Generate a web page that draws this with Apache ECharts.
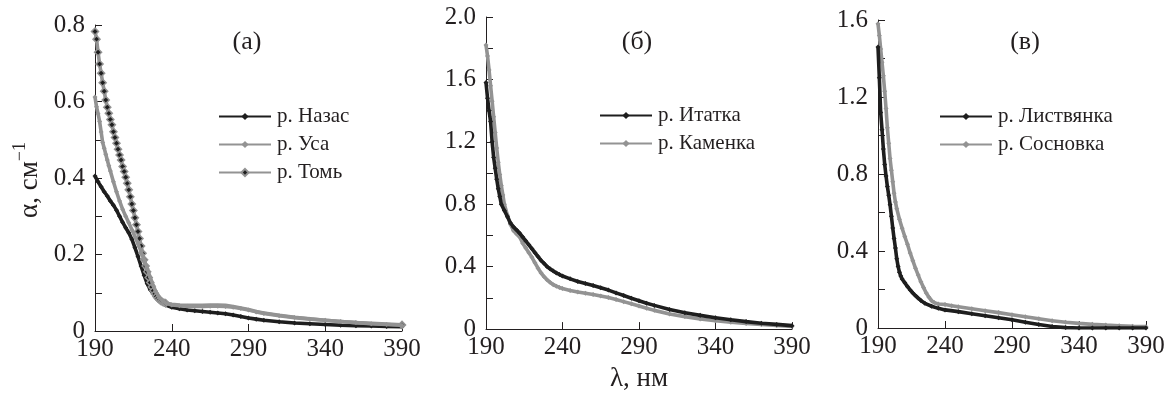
<!DOCTYPE html>
<html>
<head>
<meta charset="utf-8">
<script src="https://cdn.jsdelivr.net/npm/echarts@6/dist/echarts.min.js"></script>
<style>
html,body{margin:0;padding:0;background:#fff;}
#chart{width:1171px;height:397px;}
</style>
</head>
<body>
<div id="chart"></div>
<script>
// ---------- Data ----------
// Panel (а)
const lamNazas = [190,192,194,196,198,200,202,204,206,208,210,212,214,216,218,220,222,224,226,228,230,232,234,236,240,245,250,255,260,265,270,275,280,285,290,295,300,310,320,330,340,350,360,370,380,390];
const valNazas = [0.405,0.39,0.377,0.364,0.353,0.34,0.329,0.316,0.30,0.284,0.27,0.257,0.24,0.218,0.195,0.17,0.146,0.124,0.108,0.097,0.088,0.08,0.073,0.068,0.062,0.058,0.055,0.053,0.051,0.049,0.047,0.045,0.042,0.038,0.034,0.031,0.028,0.024,0.021,0.019,0.017,0.015,0.014,0.013,0.012,0.011];

const lamUsa = [190,191,192,193,194,195,196,197,198,199,200,202,204,206,208,210,212,214,216,218,220,222,224,226,228,230,232,234,236,240,245,250,255,260,265,270,275,280,285,290,295,300,310,320,330,340,350,360,370,380,390];
const valUsa = [0.612,0.586,0.568,0.548,0.52,0.493,0.478,0.462,0.447,0.432,0.418,0.39,0.364,0.34,0.318,0.30,0.283,0.265,0.247,0.228,0.208,0.186,0.163,0.14,0.118,0.1,0.088,0.079,0.073,0.068,0.066,0.065,0.064,0.064,0.065,0.065,0.064,0.062,0.059,0.055,0.05,0.046,0.04,0.035,0.031,0.028,0.025,0.022,0.019,0.017,0.015];

const lamTom = [190,191,192,193,194,195,196,197,198,199,200,201,202,203,204,205,206,207,208,209,210,211,212,213,214,215,216,217,218,219,220,221,222,223,224,225,226,227,228,229,230,231,232,233,234,235,236,240,245,250,255,260,265,270,275,280,285,290,295,300,310,320,330,340,350,360,370,380,390];
const valTom = [0.783,0.763,0.729,0.698,0.674,0.649,0.627,0.604,0.585,0.569,0.553,0.539,0.521,0.506,0.491,0.475,0.46,0.447,0.43,0.417,0.402,0.386,0.369,0.351,0.332,0.315,0.296,0.278,0.26,0.242,0.222,0.203,0.186,0.17,0.155,0.14,0.127,0.115,0.105,0.097,0.09,0.085,0.081,0.078,0.076,0.074,0.073,0.07,0.068,0.067,0.067,0.067,0.068,0.068,0.067,0.064,0.06,0.056,0.051,0.047,0.041,0.036,0.032,0.028,0.025,0.022,0.02,0.018,0.016];

// Panel (б)
const lamItatka = [190,191,192,193,194,195,196,197,198,199,200,202,204,206,208,210,212,214,216,218,220,222,224,226,228,230,232,234,236,238,240,245,250,255,260,265,270,275,280,285,290,295,300,310,320,330,340,350,360,370,380,390];
const valItatka = [1.58,1.48,1.40,1.33,1.20,1.10,1.03,0.96,0.90,0.85,0.80,0.76,0.72,0.68,0.655,0.635,0.615,0.59,0.565,0.54,0.515,0.49,0.465,0.44,0.42,0.40,0.385,0.372,0.36,0.35,0.34,0.322,0.305,0.292,0.28,0.265,0.25,0.232,0.215,0.198,0.182,0.166,0.152,0.126,0.105,0.088,0.073,0.06,0.048,0.038,0.03,0.022];

const lamKamenka = [190,191,192,193,194,195,196,197,198,199,200,201,202,204,206,208,210,212,214,216,218,220,222,224,226,228,230,232,234,236,238,240,245,250,255,260,265,270,275,280,285,290,295,300,310,320,330,340,350,360,370,380,390];
const valKamenka = [1.82,1.75,1.66,1.56,1.46,1.36,1.26,1.16,1.07,0.99,0.92,0.86,0.80,0.73,0.67,0.63,0.61,0.59,0.55,0.52,0.49,0.46,0.425,0.39,0.36,0.335,0.315,0.298,0.285,0.275,0.267,0.26,0.248,0.238,0.23,0.222,0.212,0.202,0.19,0.176,0.162,0.148,0.134,0.12,0.097,0.08,0.065,0.053,0.044,0.036,0.029,0.023,0.017];

// Panel (в)
const lamListv = [190,191,192,193,194,195,196,197,198,199,200,201,202,203,204,205,206,207,208,210,212,214,216,218,220,222,225,230,235,240,250,260,270,280,290,300,310,320,330,340,350,360,370,380,390];
const valListv = [1.46,1.30,1.12,1.03,0.93,0.85,0.79,0.735,0.69,0.64,0.58,0.52,0.465,0.415,0.36,0.32,0.29,0.27,0.255,0.235,0.215,0.198,0.182,0.168,0.155,0.143,0.128,0.113,0.102,0.094,0.085,0.074,0.064,0.053,0.043,0.03,0.018,0.008,0.002,0,0,0,0,0,0];

const lamSosn = [190,191,192,193,194,195,196,197,198,199,200,201,202,203,204,206,208,210,212,214,216,218,220,222,224,226,228,230,232,235,240,245,250,260,270,280,290,300,310,320,330,340,350,360,370,380,390];
const valSosn = [1.58,1.52,1.45,1.38,1.31,1.23,1.14,1.04,0.96,0.88,0.82,0.76,0.70,0.655,0.62,0.565,0.518,0.475,0.435,0.39,0.35,0.31,0.275,0.24,0.21,0.182,0.16,0.142,0.132,0.125,0.122,0.116,0.11,0.1,0.09,0.08,0.069,0.058,0.048,0.038,0.03,0.024,0.019,0.015,0.012,0.009,0.007];

const xTicks = [190, 240, 290, 340, 390];
const panelLabels = ['(а)', '(б)', '(в)'];
const namesA = ['р. Назас', 'р. Уса', 'р. Томь'];
const namesB = ['р. Итатка', 'р. Каменка'];
const namesC = ['р. Листвянка', 'р. Сосновка'];

// ---------- Styling ----------
const FONT = 'Liberation Serif';
const INK = '#231f20';
const BLACK = '#1e1e1e';
const GRAY = '#939393';

function zip(xs, ys) { return xs.map((x, i) => [x, ys[i]]); }

function xAxisCfg(gi, extra) {
  return Object.assign({
    type: 'value', gridIndex: gi,
    min: xTicks[0], max: xTicks[xTicks.length - 1], interval: xTicks[1] - xTicks[0],
    axisLine: { show: true, lineStyle: { color: INK, width: 1 } },
    axisTick: { show: true, inside: true, length: 7, lineStyle: { color: INK } },
    axisLabel: { fontFamily: FONT, fontSize: 25, color: INK, margin: 6 },
    splitLine: { show: false }
  }, extra || {});
}
function yAxisCfg(gi, max, interval, labelEvery, extra) {
  return Object.assign({
    type: 'value', gridIndex: gi, min: 0, max: max, interval: interval,
    axisLine: { show: true, lineStyle: { color: INK, width: 1 } },
    axisTick: { show: true, inside: true, length: 7, lineStyle: { color: INK } },
    axisLabel: {
      fontFamily: FONT, fontSize: 25, color: INK, margin: 10,
      formatter: function (v) {
        const k = Math.round(v / interval);
        if (k % labelEvery !== 0) return '';
        if (Math.abs(v) < 1e-9) return '0';
        return v.toFixed(1);
      }
    },
    splitLine: { show: false }
  }, extra || {});
}

function lineSeries(name, gi, data, color, z) {
  return {
    type: 'line', name: name, xAxisIndex: gi, yAxisIndex: gi,
    data: data, z: z,
    symbol: 'diamond', symbolSize: 5, showSymbol: true,
    lineStyle: { color: color, width: 3.6 },
    itemStyle: { color: color },
    emphasis: { disabled: true }
  };
}

const tomData = zip(lamTom, valTom).map((p, i, arr) =>
  (p[0] > 236 && i !== arr.length - 1) ? { value: p, symbol: 'none' } : { value: p });

const series = [
  lineSeries(namesA[0], 0, zip(lamNazas, valNazas), BLACK, 2),
  lineSeries(namesA[1], 0, zip(lamUsa, valUsa), GRAY, 4),
  {
    type: 'line', name: namesA[2], xAxisIndex: 0, yAxisIndex: 0, z: 3,
    data: tomData,
    symbol: 'diamond', symbolSize: 7, showSymbol: true,
    lineStyle: { color: GRAY, width: 3.6 },
    itemStyle: { color: BLACK, borderColor: GRAY, borderWidth: 1.5 },
    emphasis: { disabled: true }
  },
  lineSeries(namesB[0], 1, zip(lamItatka, valItatka), BLACK, 3),
  lineSeries(namesB[1], 1, zip(lamKamenka, valKamenka), GRAY, 2),
  lineSeries(namesC[0], 2, zip(lamListv, valListv), BLACK, 3),
  lineSeries(namesC[1], 2, zip(lamSosn, valSosn), GRAY, 2)
];

function legendCfg(names, left, top) {
  return {
    data: names, orient: 'vertical', left: left, top: top,
    itemWidth: 52, itemHeight: 9, itemGap: 7,
    selectedMode: false, padding: 0,
    textStyle: { fontFamily: FONT, fontSize: 21, color: INK, padding: [0, 0, 0, 1] }
  };
}

const option = {
  animation: false,
  backgroundColor: '#fff',
  grid: [
    { left: 95, right: 769, top: 25, bottom: 66 },
    { left: 486, right: 379, top: 17, bottom: 65 },
    { left: 878, right: 25, top: 20, bottom: 69 }
  ],
  xAxis: [
    xAxisCfg(0),
    xAxisCfg(1, { name: 'λ, нм', nameLocation: 'middle', nameGap: 32,
      nameTextStyle: { fontFamily: FONT, fontSize: 27, color: INK } }),
    xAxisCfg(2)
  ],
  yAxis: [
    yAxisCfg(0, 0.8, 0.1, 2),
    yAxisCfg(1, 2.0, 0.2, 2),
    yAxisCfg(2, 1.6, 0.2, 2)
  ],
  legend: [
    legendCfg(namesA, 218, 106),
    legendCfg(namesB, 599, 105),
    legendCfg(namesC, 939, 106)
  ],
  graphic: [
    { type: 'text', x: 247, y: 42, style: { text: panelLabels[0], font: '26px "' + FONT + '"', fill: INK, align: 'center', verticalAlign: 'middle' } },
    { type: 'text', x: 637, y: 42, style: { text: panelLabels[1], font: '26px "' + FONT + '"', fill: INK, align: 'center', verticalAlign: 'middle' } },
    { type: 'text', x: 1025, y: 42, style: { text: panelLabels[2], font: '26px "' + FONT + '"', fill: INK, align: 'center', verticalAlign: 'middle' } },
    {
      type: 'text', x: 27, y: 180, rotation: Math.PI / 2,
      style: {
        text: '{m|α, см}{s|−1}', align: 'center', verticalAlign: 'middle', fill: INK,
        rich: {
          m: { fontFamily: FONT, fontSize: 27, fill: INK, lineHeight: 32, verticalAlign: 'bottom' },
          s: { fontFamily: FONT, fontSize: 18, fill: INK, lineHeight: 32, verticalAlign: 'top' }
        }
      }
    }
  ],
  series: series
};

const chart = echarts.init(document.getElementById('chart'), null, { renderer: 'canvas' });
chart.setOption(option);
</script>
</body>
</html>
